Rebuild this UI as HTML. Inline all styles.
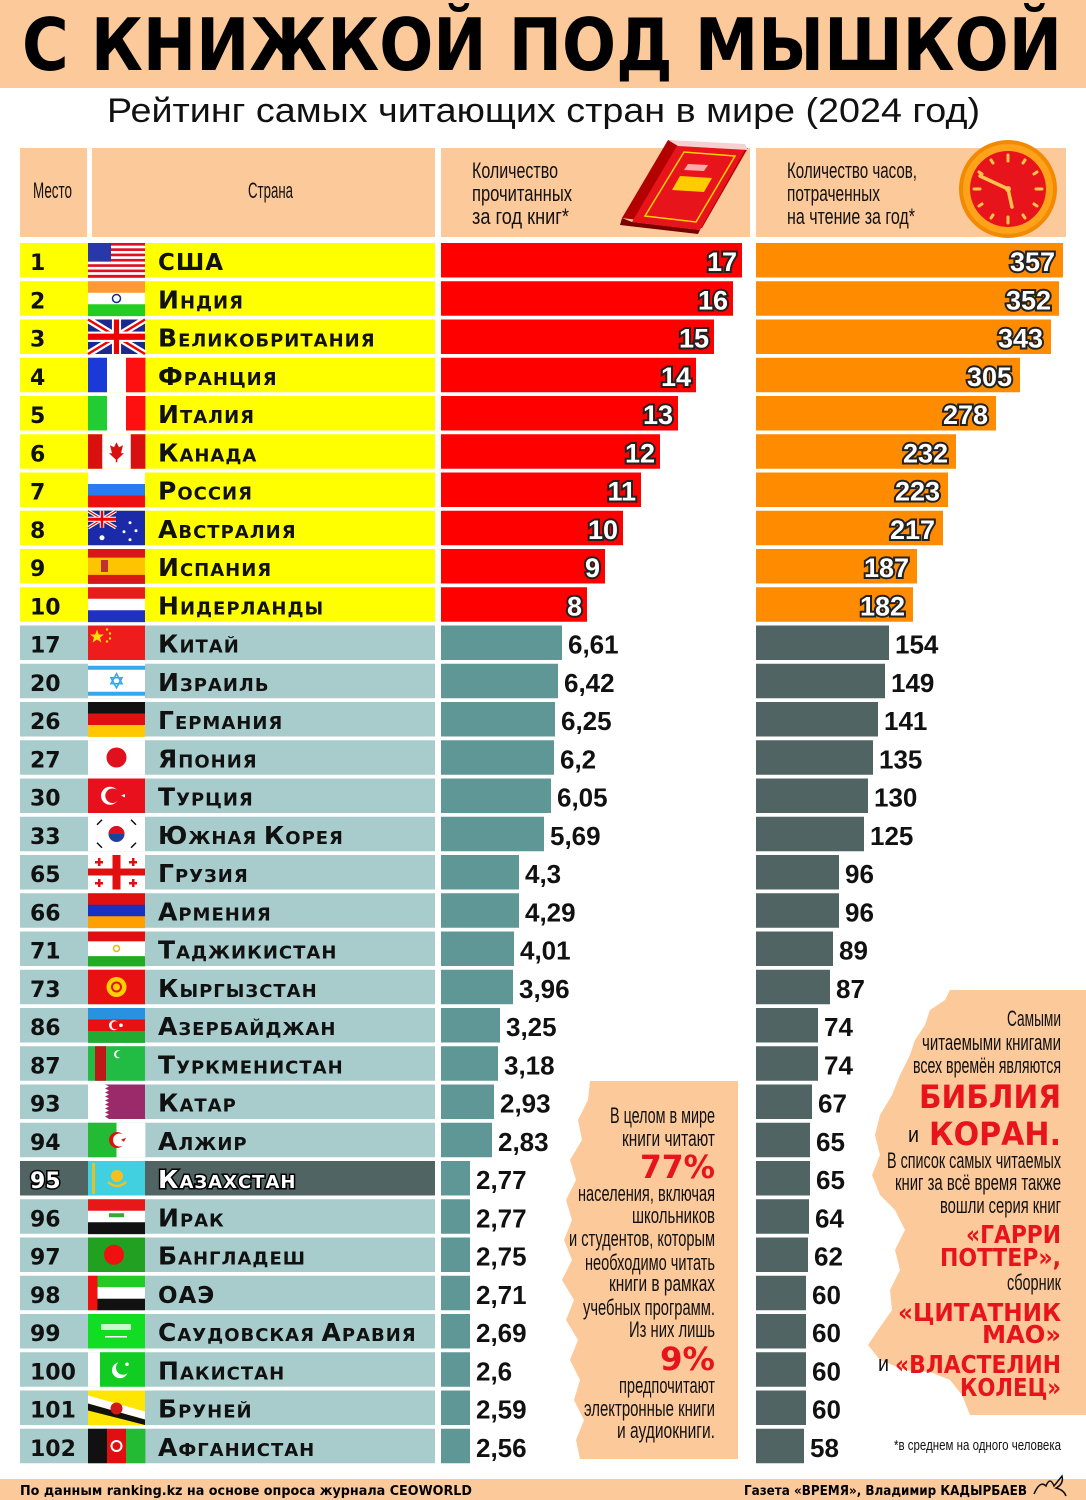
<!DOCTYPE html>
<html><head><meta charset="utf-8"><style>
html,body{margin:0;padding:0;background:#fff;width:1086px;height:1500px;overflow:hidden}
svg{display:block}
</style></head><body>
<svg id="s" width="1086" height="1500" viewBox="0 0 1086 1500" xmlns="http://www.w3.org/2000/svg" font-family="Liberation Sans, sans-serif">
<rect x="0" y="0" width="1086" height="88" fill="#fcc99b"/>
<text x="22" y="70" font-family="DejaVu Sans, sans-serif" font-weight="bold" font-size="72" textLength="1040" lengthAdjust="spacingAndGlyphs" fill="#000">С КНИЖКОЙ ПОД МЫШКОЙ</text>
<text x="107" y="122" font-size="34" textLength="873" lengthAdjust="spacingAndGlyphs" fill="#111">Рейтинг самых читающих стран в мире (2024 год)</text>
<rect x="20" y="148" width="67" height="89" fill="#fcc99b"/>
<rect x="92" y="148" width="343" height="89" fill="#fcc99b"/>
<rect x="441" y="148" width="309" height="89" fill="#fcc99b"/>
<rect x="756" y="148" width="310" height="89" fill="#fcc99b"/>
<g font-size="22" fill="#111">
<text x="33" y="198" textLength="39" lengthAdjust="spacingAndGlyphs">Место</text>
<text x="248" y="198" textLength="45" lengthAdjust="spacingAndGlyphs">Страна</text>
<text x="472" y="178" textLength="86" lengthAdjust="spacingAndGlyphs">Количество</text>
<text x="472" y="201" textLength="100" lengthAdjust="spacingAndGlyphs">прочитанных</text>
<text x="472" y="224" textLength="97" lengthAdjust="spacingAndGlyphs">за год книг*</text>
<text x="787" y="178" textLength="130" lengthAdjust="spacingAndGlyphs">Количество часов,</text>
<text x="787" y="201" textLength="93" lengthAdjust="spacingAndGlyphs">потраченных</text>
<text x="787" y="224" textLength="128" lengthAdjust="spacingAndGlyphs">на чтение за год*</text>
</g>
<!-- book -->
<g>
<polygon points="622,218 668,140 748,148 702,228" fill="#b30000"/>
<polygon points="632,222 678,144 745,150 700,230" fill="#e8141b"/>
<polygon points="622,218 632,222 700,230 698,234 620,225" fill="#7a0000"/>
<polygon points="668,140 745,144 748,150 678,146" fill="#f6d0d0"/>
<polygon points="645,216 684,152 735,156 696,222" fill="none" stroke="#ffd200" stroke-width="1.5"/>
<polygon points="672,190 680,176 712,178 704,192" fill="#ffcc00"/>
<polygon points="684,170 688,164 708,165 704,171" fill="#ffaaaa"/>
</g>
<!-- clock -->
<g>
<circle cx="1008" cy="189" r="49" fill="#f28a00"/>
<circle cx="1008" cy="189" r="45" fill="#ffa31a"/>
<circle cx="1008" cy="189" r="38" fill="#e8141b"/>
<g stroke="#ffc34d" stroke-width="3" stroke-linecap="round">
<line x1="1008" y1="155" x2="1008" y2="161"/><line x1="1008" y1="217" x2="1008" y2="223"/>
<line x1="974" y1="189" x2="980" y2="189"/><line x1="1036" y1="189" x2="1042" y2="189"/>
<line x1="991" y1="160" x2="993" y2="163"/><line x1="1025" y1="160" x2="1023" y2="163"/>
<line x1="991" y1="218" x2="993" y2="215"/><line x1="1025" y1="218" x2="1023" y2="215"/>
<line x1="979" y1="172" x2="982" y2="174"/><line x1="1037" y1="172" x2="1034" y2="174"/>
<line x1="979" y1="206" x2="982" y2="204"/><line x1="1037" y1="206" x2="1034" y2="204"/>
<line x1="1008" y1="189" x2="980" y2="176" stroke-width="3.5"/>
<line x1="1008" y1="189" x2="1012" y2="207" stroke-width="3.5"/>
</g>
<circle cx="1008" cy="189" r="3" fill="#ffc34d"/>
</g>
<g id="rows"></g>
<!-- middle box -->
<path d="M590,1081 L738,1081 L738,1459 L580,1459 L576,1440 L584,1420 L574,1400 L580,1380 L570,1360 L578,1340 L566,1320 L574,1300 L562,1280 L572,1260 L564,1240 L572,1220 L566,1200 L576,1180 L570,1160 L582,1140 L578,1120 L588,1100 Z" fill="#fcc99b"/>
<g font-size="22" fill="#111" text-anchor="end">
<text x="715" y="1123" textLength="105" lengthAdjust="spacingAndGlyphs">В целом в мире</text>
<text x="715" y="1146" textLength="93" lengthAdjust="spacingAndGlyphs">книги читают</text>
<text x="715" y="1178" font-family="DejaVu Sans, sans-serif" font-weight="bold" font-size="32" fill="#e8141b" textLength="75" lengthAdjust="spacingAndGlyphs">77%</text>
<text x="715" y="1201" textLength="137" lengthAdjust="spacingAndGlyphs">населения, включая</text>
<text x="715" y="1223" textLength="83" lengthAdjust="spacingAndGlyphs">школьников</text>
<text x="715" y="1246" textLength="146" lengthAdjust="spacingAndGlyphs">и студентов, которым</text>
<text x="715" y="1270" textLength="130" lengthAdjust="spacingAndGlyphs">необходимо читать</text>
<text x="715" y="1291" textLength="106" lengthAdjust="spacingAndGlyphs">книги в рамках</text>
<text x="715" y="1315" textLength="132" lengthAdjust="spacingAndGlyphs">учебных программ.</text>
<text x="715" y="1337" textLength="86" lengthAdjust="spacingAndGlyphs">Из них лишь</text>
<text x="715" y="1370" font-family="DejaVu Sans, sans-serif" font-weight="bold" font-size="32" fill="#e8141b" textLength="55" lengthAdjust="spacingAndGlyphs">9%</text>
<text x="715" y="1393" textLength="96" lengthAdjust="spacingAndGlyphs">предпочитают</text>
<text x="715" y="1416" textLength="131" lengthAdjust="spacingAndGlyphs">электронные книги</text>
<text x="715" y="1438" textLength="98" lengthAdjust="spacingAndGlyphs">и аудиокниги.</text>
</g>
<!-- right box -->
<path d="M950,990 L1086,990 L1086,1415 L970,1415 L962,1395 L950,1380 L930,1372 L905,1370 L880,1360 L868,1345 L878,1330 L892,1310 L890,1290 L900,1270 L895,1250 L905,1230 L895,1210 L880,1195 L872,1175 L880,1155 L875,1135 L880,1115 L892,1095 L900,1075 L910,1055 L915,1040 L925,1025 L930,1010 L945,1000 Z" fill="#fcc99b"/>
<g font-size="22" fill="#111" text-anchor="end">
<text x="1061" y="1026" textLength="54" lengthAdjust="spacingAndGlyphs">Самыми</text>
<text x="1061" y="1050" textLength="139" lengthAdjust="spacingAndGlyphs">читаемыми книгами</text>
<text x="1061" y="1073" textLength="148" lengthAdjust="spacingAndGlyphs">всех времён являются</text>
<text x="1061" y="1108" font-family="DejaVu Sans, sans-serif" font-weight="bold" font-size="32" fill="#e8141b" textLength="142" lengthAdjust="spacingAndGlyphs">БИБЛИЯ</text>
<text x="908" y="1142" text-anchor="start" textLength="11" lengthAdjust="spacingAndGlyphs">и</text>
<text x="1061" y="1145" font-family="DejaVu Sans, sans-serif" font-weight="bold" font-size="32" fill="#e8141b" textLength="132" lengthAdjust="spacingAndGlyphs">КОРАН.</text>
<text x="1061" y="1168" textLength="174" lengthAdjust="spacingAndGlyphs">В список самых читаемых</text>
<text x="1061" y="1190" textLength="166" lengthAdjust="spacingAndGlyphs">книг за всё время также</text>
<text x="1061" y="1213" textLength="121" lengthAdjust="spacingAndGlyphs">вошли серия книг</text>
<text x="1061" y="1243" font-family="DejaVu Sans, sans-serif" font-weight="bold" font-size="25" fill="#e8141b" textLength="95" lengthAdjust="spacingAndGlyphs">«ГАРРИ</text>
<text x="1061" y="1266" font-family="DejaVu Sans, sans-serif" font-weight="bold" font-size="25" fill="#e8141b" textLength="121" lengthAdjust="spacingAndGlyphs">ПОТТЕР»,</text>
<text x="1061" y="1290" textLength="54" lengthAdjust="spacingAndGlyphs">сборник</text>
<text x="1061" y="1321" font-family="DejaVu Sans, sans-serif" font-weight="bold" font-size="25" fill="#e8141b" textLength="163" lengthAdjust="spacingAndGlyphs">«ЦИТАТНИК</text>
<text x="1061" y="1343" font-family="DejaVu Sans, sans-serif" font-weight="bold" font-size="25" fill="#e8141b" textLength="79" lengthAdjust="spacingAndGlyphs">МАО»</text>
<text x="878" y="1371" text-anchor="start" textLength="11" lengthAdjust="spacingAndGlyphs">и</text>
<text x="1061" y="1373" font-family="DejaVu Sans, sans-serif" font-weight="bold" font-size="25" fill="#e8141b" textLength="166" lengthAdjust="spacingAndGlyphs">«ВЛАСТЕЛИН</text>
<text x="1061" y="1396" font-family="DejaVu Sans, sans-serif" font-weight="bold" font-size="25" fill="#e8141b" textLength="101" lengthAdjust="spacingAndGlyphs">КОЛЕЦ»</text>
<text x="1061" y="1450" font-size="15" textLength="167" lengthAdjust="spacingAndGlyphs">*в среднем на одного человека</text>
</g>
<rect x="0" y="1479" width="1086" height="21" fill="#fcc99b"/>
<text x="20" y="1495" font-family="DejaVu Sans, sans-serif" font-weight="bold" font-size="13" textLength="452" lengthAdjust="spacingAndGlyphs">По данным ranking.kz на основе опроса журнала CEOWORLD</text>
<text x="744" y="1495" font-family="DejaVu Sans, sans-serif" font-weight="bold" font-size="13" textLength="283" lengthAdjust="spacingAndGlyphs">Газета «ВРЕМЯ», Владимир КАДЫРБАЕВ</text>
<path d="M1034,1494 q6,-14 12,-8 q4,-10 8,0 l8,-10 q2,8 -6,12 q8,2 10,8" fill="none" stroke="#111" stroke-width="1.5"/>
</svg>
<script>
const W=57,H=34.5;
function hs(c,w){let s='';let ws=w||c.map(()=>1),t=ws.reduce((a,b)=>a+b),y=0;c.forEach((col,i)=>{let h=H*ws[i]/t;s+=`<rect x="0" y="${y}" width="${W}" height="${h+0.4}" fill="${col}"/>`;y+=h});return s}
function vs(c,w){let s='';let ws=w||c.map(()=>1),t=ws.reduce((a,b)=>a+b),x=0;c.forEach((col,i)=>{let ww=W*ws[i]/t;s+=`<rect x="${x}" y="0" width="${ww+0.4}" height="${H}" fill="${col}"/>`;x+=ww});return s}
function uk(w,h){return `<rect width="${w}" height="${h}" fill="#1a2a8c"/><g stroke="#fff" stroke-width="${h/5}"><line x1="0" y1="0" x2="${w}" y2="${h}"/><line x1="${w}" y1="0" x2="0" y2="${h}"/></g><g stroke="#e00" stroke-width="${h/14}"><line x1="0" y1="0" x2="${w}" y2="${h}"/><line x1="${w}" y1="0" x2="0" y2="${h}"/></g><rect x="0" y="${h*0.35}" width="${w}" height="${h*0.3}" fill="#fff"/><rect x="${w*0.42}" y="0" width="${w*0.16}" height="${h}" fill="#fff"/><rect x="0" y="${h*0.41}" width="${w}" height="${h*0.18}" fill="#e00"/><rect x="${w*0.455}" y="0" width="${w*0.09}" height="${h}" fill="#e00"/>`}
const F={
usa:()=>{let s='';for(let i=0;i<13;i++)s+=`<rect x="0" y="${i*H/13}" width="${W}" height="${H/13+0.3}" fill="${i%2?'#fff':'#e01020'}"/>`;return s+`<rect width="23" height="18.6" fill="#2838a8"/>`},
ind:()=>hs(['#ff9933','#fff','#22cc22'])+`<circle cx="28.5" cy="17.25" r="4" fill="none" stroke="#1a2a8c" stroke-width="1.5"/>`,
uk:()=>uk(W,H),
fra:()=>vs(['#1a3ad8','#fff','#ff1010']),
ita:()=>vs(['#22cc33','#fff','#ff1010']),
can:()=>vs(['#d81010','#fff','#d81010'],[1,2,1])+`<polygon points="28.5,8 31,13 35,11 33,19 36,19 28.5,26 21,19 24,19 22,11 26,13" fill="#d81010"/><rect x="27.8" y="24" width="1.5" height="4" fill="#d81010"/>`,
rus:()=>hs(['#fff','#2a7af0','#ee1010']),
aus:()=>`<rect width="${W}" height="${H}" fill="#1a2aa8"/>`+uk(28,17)+`<circle cx="14" cy="27" r="2.5" fill="#fff"/><circle cx="42" cy="12" r="1.5" fill="#fff"/><circle cx="48" cy="20" r="1.5" fill="#fff"/><circle cx="36" cy="21" r="1.5" fill="#fff"/><circle cx="42" cy="29" r="1.5" fill="#fff"/>`,
esp:()=>hs(['#d81818','#ffc400','#d81818'],[1,2,1])+`<rect x="13" y="11" width="7" height="12" fill="#c03030"/>`,
ned:()=>hs(['#e81c1c','#fff','#2030c0']),
chn:()=>`<rect width="${W}" height="${H}" fill="#ee1c1c"/><polygon points="9,4 10.8,9 16,9 12,12 13.5,17 9,14 4.5,17 6,12 2,9 7.2,9" fill="#ffde00"/><circle cx="19" cy="4" r="1.2" fill="#ffde00"/><circle cx="22" cy="8" r="1.2" fill="#ffde00"/><circle cx="22" cy="13" r="1.2" fill="#ffde00"/><circle cx="19" cy="16" r="1.2" fill="#ffde00"/>`,
isr:()=>`<rect width="${W}" height="${H}" fill="#fff"/><rect y="2" width="${W}" height="4" fill="#33a8ee"/><rect y="28" width="${W}" height="4" fill="#33a8ee"/><polygon points="28.5,10 34,20 23,20" fill="none" stroke="#33a8ee" stroke-width="1.6"/><polygon points="28.5,24 34,14 23,14" fill="none" stroke="#33a8ee" stroke-width="1.6"/>`,
ger:()=>hs(['#111','#e01010','#ffc800']),
jpn:()=>`<rect width="${W}" height="${H}" fill="#fff"/><circle cx="28.5" cy="17.25" r="10" fill="#e0101c"/>`,
tur:()=>`<rect width="${W}" height="${H}" fill="#e8101c"/><circle cx="22" cy="17.25" r="9" fill="#fff"/><circle cx="24.5" cy="17.25" r="7.2" fill="#e8101c"/><polygon points="33,17 37,15.5 37,19" fill="#fff"/>`,
kor:()=>`<rect width="${W}" height="${H}" fill="#fff"/><circle cx="28.5" cy="17.25" r="8" fill="#2040a0"/><path d="M20.5,17.25 A8,8 0 0 1 36.5,17.25 Z" fill="#e01020"/><g stroke="#111" stroke-width="1.5"><line x1="9" y1="8" x2="14" y2="3"/><line x1="43" y1="3" x2="48" y2="8"/><line x1="9" y1="26" x2="14" y2="31"/><line x1="43" y1="31" x2="48" y2="26"/></g>`,
geo:()=>`<rect width="${W}" height="${H}" fill="#fff"/><rect x="24.5" width="8" height="${H}" fill="#e01010"/><rect y="13.5" width="${W}" height="7" fill="#e01010"/><g fill="#e01010"><rect x="10" y="3" width="2.5" height="8"/><rect x="7" y="6" width="8" height="2.5"/><rect x="44" y="3" width="2.5" height="8"/><rect x="41" y="6" width="8" height="2.5"/><rect x="10" y="24" width="2.5" height="8"/><rect x="7" y="27" width="8" height="2.5"/><rect x="44" y="24" width="2.5" height="8"/><rect x="41" y="27" width="8" height="2.5"/></g>`,
arm:()=>hs(['#e01010','#1a30c0','#ffa000']),
taj:()=>hs(['#e01010','#fff','#22aa22'],[2,3,2])+`<circle cx="28.5" cy="17" r="3" fill="none" stroke="#e8b800" stroke-width="1.5"/>`,
kgz:()=>`<rect width="${W}" height="${H}" fill="#e81010"/><circle cx="28.5" cy="17.25" r="10" fill="#ffd000"/><circle cx="28.5" cy="17.25" r="5.5" fill="#e81010"/><circle cx="28.5" cy="17.25" r="3.5" fill="#ffd000"/>`,
aze:()=>hs(['#2a90e0','#e81010','#22aa33'])+`<circle cx="26" cy="17.25" r="5" fill="#fff"/><circle cx="27.5" cy="17.25" r="4" fill="#e81010"/><circle cx="33" cy="17.25" r="1.8" fill="#fff"/>`,
tkm:()=>`<rect width="${W}" height="${H}" fill="#22bb44"/><rect x="7" width="11" height="${H}" fill="#c01818"/><circle cx="30" cy="8" r="4" fill="#fff"/><circle cx="31.5" cy="8" r="3.4" fill="#22bb44"/>`,
qat:()=>`<rect width="${W}" height="${H}" fill="#9a2a6a"/><polygon points="0,0 17,0 21,2 17,4 21,6 17,8 21,10 17,12 21,14 17,16 21,18 17,20 21,22 17,24 21,26 17,28 21,30 17,32 21,34.5 0,34.5" fill="#fff"/>`,
alg:()=>vs(['#22bb33','#fff'])+`<circle cx="29" cy="17.25" r="8" fill="#e01010"/><circle cx="31.5" cy="17.25" r="6.5" fill="#fff"/><polygon points="33,17 38,15 36,19" fill="#e01010"/>`,
kaz:()=>`<rect width="${W}" height="${H}" fill="#40d0e0"/><rect x="4" y="2" width="3" height="31" fill="#e8c020"/><circle cx="29" cy="15" r="6" fill="#f4c020"/><path d="M20,21 q9,8 18,0" fill="none" stroke="#f4c020" stroke-width="2.5"/>`,
irq:()=>hs(['#e81818','#fff','#111'])+`<rect x="21" y="14" width="15" height="4" fill="#33aa33"/>`,
ban:()=>`<rect width="${W}" height="${H}" fill="#22a022"/><circle cx="26" cy="17.25" r="10" fill="#f01010"/>`,
uae:()=>`<rect x="9" width="${W-9}" height="11.5" fill="#22cc22"/><rect x="9" y="11.5" width="${W-9}" height="11.5" fill="#fff"/><rect x="9" y="23" width="${W-9}" height="11.5" fill="#111"/><rect width="9.5" height="${H}" fill="#f01010"/>`,
sau:()=>`<rect width="${W}" height="${H}" fill="#11dd22"/><rect x="13" y="10" width="30" height="6" fill="#e8ffe8" opacity=".85"/><rect x="17" y="22" width="22" height="1.5" fill="#fff"/>`,
pak:()=>`<rect width="${W}" height="${H}" fill="#fff"/><rect x="12" width="${W-12}" height="${H}" fill="#11cc22"/><circle cx="32" cy="18" r="8" fill="#fff"/><circle cx="35" cy="15.5" r="7" fill="#11cc22"/><circle cx="39" cy="12" r="1.8" fill="#fff"/>`,
bru:()=>`<rect width="${W}" height="${H}" fill="#ffe600"/><polygon points="0,5 ${W},21 ${W},29 0,13" fill="#fff"/><polygon points="0,13 ${W},29 ${W},34.5 0,20" fill="#111"/><circle cx="28.5" cy="18" r="6" fill="#d01818"/>`,
afg:()=>vs(['#111','#e01010','#22bb33'])+`<circle cx="28.5" cy="17.25" r="5" fill="none" stroke="#fff" stroke-width="2"/>`
};
const D=[
[1,'США','usa','17',742,'357',1063],
[2,'Индия','ind','16',733,'352',1059],
[3,'Великобритания','uk','15',714,'343',1051],
[4,'Франция','fra','14',696,'305',1020],
[5,'Италия','ita','13',678,'278',996],
[6,'Канада','can','12',660,'232',956],
[7,'Россия','rus','11',641,'223',948],
[8,'Австралия','aus','10',623,'217',943],
[9,'Испания','esp','9',605,'187',917],
[10,'Нидерланды','ned','8',587,'182',913],
[17,'Китай','chn','6,61',562,'154',889],
[20,'Израиль','isr','6,42',558,'149',885],
[26,'Германия','ger','6,25',555,'141',878],
[27,'Япония','jpn','6,2',554,'135',873],
[30,'Турция','tur','6,05',551,'130',868],
[33,'Южная Корея','kor','5,69',544,'125',864],
[65,'Грузия','geo','4,3',519,'96',839],
[66,'Армения','arm','4,29',519,'96',839],
[71,'Таджикистан','taj','4,01',514,'89',833],
[73,'Кыргызстан','kgz','3,96',513,'87',830],
[86,'Азербайджан','aze','3,25',500,'74',818],
[87,'Туркменистан','tkm','3,18',498,'74',818],
[93,'Катар','qat','2,93',494,'67',812],
[94,'Алжир','alg','2,83',492,'65',810],
[95,'Казахстан','kaz','2,77',470,'65',810],
[96,'Ирак','irq','2,77',470,'64',809],
[97,'Бангладеш','ban','2,75',470,'62',808],
[98,'ОАЭ','uae','2,71',470,'60',806],
[99,'Саудовская Аравия','sau','2,69',470,'60',806],
[100,'Пакистан','pak','2,6',470,'60',806],
[101,'Бруней','bru','2,59',470,'60',806],
[102,'Афганистан','afg','2,56',470,'58',804]];
let out='';
D.forEach((d,i)=>{
 const y=243+i*38.25, top=i<10, kz=d[2]=='kaz';
 const cell=top?'#ffff00':(kz?'#4f6463':'#a7cccb');
 out+=`<rect x="20" y="${y}" width="415" height="${H}" fill="${cell}"/>`;
 out+=`<g transform="translate(88,${y})">${F[d[2]]()}</g>`;
 const tcol=kz?'#fff':'#111', st=kz?' stroke="#000" stroke-width="3" paint-order="stroke"':'';
 out+=`<text x="30" y="${y+27}" font-family="DejaVu Sans, sans-serif" font-weight="bold" font-size="22" fill="${tcol}"${st}>${d[0]}</text>`;
 const nm=d[1]=='США'||d[1]=='ОАЭ'?`<tspan font-size="23">${d[1]}</tspan>`:d[1].split(' ').map(w=>`<tspan font-size="25">${w[0]}</tspan><tspan font-size="25" font-variant="small-caps">${w.slice(1).toLowerCase()}</tspan>`).join(' ');
 out+=`<text x="158" y="${y+27}" font-family="DejaVu Sans, sans-serif" font-weight="bold" fill="${tcol}" letter-spacing="1"${st}>${nm}</text>`;
 const bc=top?'#ff0000':'#5f9796', hc=top?'#ff8c00':'#4f6463';
 out+=`<rect x="441" y="${y}" width="${d[4]-441}" height="${H}" fill="${bc}"/>`;
 out+=`<rect x="756" y="${y}" width="${d[6]-756}" height="${H}" fill="${hc}"/>`;
 if(top){
  out+=`<text x="${d[4]-5}" y="${y+28}" text-anchor="end" font-weight="bold" font-size="27" fill="#fff" stroke="#222" stroke-width="4" paint-order="stroke">${d[3]}</text>`;
  out+=`<text x="${d[6]-8}" y="${y+28}" text-anchor="end" font-weight="bold" font-size="27" fill="#fff" stroke="#222" stroke-width="4" paint-order="stroke">${d[5]}</text>`;
 } else {
  out+=`<text x="${d[4]+6}" y="${y+28}" font-weight="bold" font-size="26" fill="#111">${d[3]}</text>`;
  out+=`<text x="${d[6]+6}" y="${y+28}" font-weight="bold" font-size="26" fill="#111">${d[5]}</text>`;
 }
});
document.getElementById('rows').innerHTML=out;
</script>
</body></html>
